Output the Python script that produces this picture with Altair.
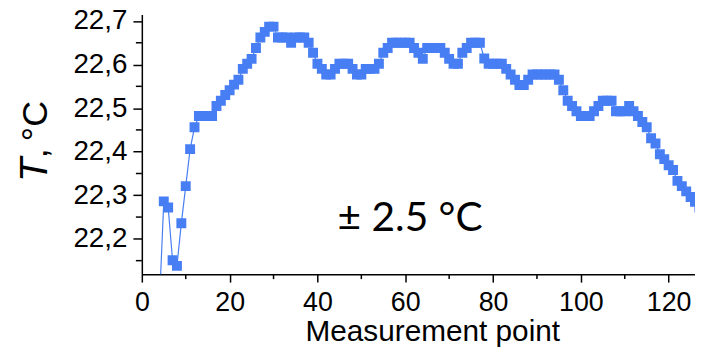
import altair as alt
import pandas as pd

# measurement index and temperature readings
points = list(range(4, 128))
temps = [
    22.05, 22.286, 22.272, 22.151, 22.138, 22.236, 22.321, 22.406, 22.456,
    22.482, 22.482, 22.482, 22.482, 22.505, 22.517, 22.530, 22.541, 22.554,
    22.565, 22.590, 22.602, 22.613, 22.638, 22.662, 22.675, 22.687, 22.687,
    22.662, 22.662, 22.662, 22.650, 22.662, 22.662, 22.662, 22.650, 22.627,
    22.602, 22.590, 22.577, 22.577, 22.590, 22.602, 22.602, 22.602, 22.590,
    22.577, 22.577, 22.590, 22.590, 22.590, 22.602, 22.627, 22.638, 22.650,
    22.650, 22.650, 22.650, 22.650, 22.638, 22.627, 22.613, 22.638, 22.638,
    22.638, 22.638, 22.627, 22.613, 22.602, 22.602, 22.627, 22.638, 22.650,
    22.650, 22.650, 22.614, 22.602, 22.602, 22.602, 22.602, 22.590, 22.577,
    22.565, 22.553, 22.553, 22.565, 22.577, 22.577, 22.577, 22.577, 22.577,
    22.577, 22.565, 22.541, 22.517, 22.505, 22.493, 22.482, 22.482,
    22.482, 22.493, 22.505, 22.517, 22.517, 22.517, 22.493, 22.493, 22.493,
    22.505, 22.493, 22.482, 22.468, 22.456, 22.431, 22.419, 22.394, 22.383,
    22.369, 22.358, 22.333, 22.321, 22.309, 22.296, 22.285, 22.272,
]

x_major = [0, 20, 40, 60, 80, 100, 120]
x_minor = [10, 30, 50, 70, 90, 110]
y_major = [22.2, 22.3, 22.4, 22.5, 22.6, 22.7]
y_minor = [22.15, 22.25, 22.35, 22.45, 22.55, 22.65]

annot_text = ["± 2.5 °C"]
annot_x = [61.1]
annot_y = [22.219]

X_DOMAIN = [0, 126]
Y_DOMAIN = [22.119, 22.715]
BLUE = "#477ef4"
FONT = "Liberation Sans"

df = pd.DataFrame({"point": points, "temp": temps})
xs = alt.Scale(domain=X_DOMAIN, nice=False, zero=False)
ys = alt.Scale(domain=Y_DOMAIN, nice=False, zero=False)

x_axis = alt.Axis(
    values=x_major, title="Measurement point", grid=False,
    labelFont=FONT, labelFontSize=27, labelColor="black",
    tickSize=8, tickWidth=1.5, tickColor="black",
    domainColor="black", domainWidth=1.5, labelPadding=8,
    titleFont=FONT, titleFontSize=30, titleFontWeight="normal", titleColor="black",
    titleX=293, titleY=67, titleBaseline="alphabetic", titleAlign="center",
    labelFlush=False,
)
y_axis = alt.Axis(
    values=y_major, title="", grid=False,
    labelExpr="replace(format(datum.value, '.1f'), '.', ',')",
    labelFont=FONT, labelFontSize=28, labelColor="black",
    tickSize=9, tickWidth=1.5, tickColor="black",
    domainColor="black", domainWidth=1.5, labelPadding=6, labelFlush=False,
)


def X(field):
    return alt.X(field, scale=xs, axis=x_axis)


def Y(field):
    return alt.Y(field, scale=ys, axis=y_axis)


base = alt.Chart(df)
line = base.mark_line(color=BLUE, strokeWidth=1.2, clip=True).encode(
    x=X("point:Q"), y=Y("temp:Q"),
)
pts = base.mark_point(shape="square", filled=True, size=100, opacity=1,
                      color=BLUE, clip=True).encode(
    x=X("point:Q"), y=Y("temp:Q"),
)

ymin_df = pd.DataFrame({"v": y_minor})
xmin_df = pd.DataFrame({"v": x_minor})
ytick = alt.Chart(ymin_df).mark_rule(color="black", strokeWidth=1.5).encode(
    y=Y("v:Q"), x=alt.value(-6), x2=alt.value(0),
)
xtick = alt.Chart(xmin_df).mark_rule(color="black", strokeWidth=1.5).encode(
    x=X("v:Q"), y=alt.value(262), y2=alt.value(267),
)

annot_df = pd.DataFrame({"t": annot_text, "ax": annot_x, "ay": annot_y})
annot = alt.Chart(annot_df).mark_text(
    font="Lato", fontSize=41, color="black", align="center", baseline="alphabetic"
).encode(
    x=X("ax:Q"), y=Y("ay:Q"), text="t:N",
)

title_df = pd.DataFrame({"a": ["T"], "b": [",\u2009°C"]})
t_ital = alt.Chart(title_df).mark_text(
    font=FONT, fontSize=40, fontStyle="italic", color="black", angle=270,
    align="left", baseline="alphabetic",
).encode(x=alt.value(-96), y=alt.value(169), text="a:N")
t_rest = alt.Chart(title_df).mark_text(
    font=FONT, fontSize=36, color="black", angle=270,
    align="left", baseline="alphabetic",
).encode(x=alt.value(-96), y=alt.value(145), text="b:N")

chart = alt.layer(line, pts, ytick, xtick, annot, t_ital, t_rest).properties(
    width=558, height=262,
    autosize=alt.AutoSizeParams(type="none"),
    padding={"left": 135, "top": 5, "right": 0, "bottom": 74},
).configure_view(stroke=None)

chart.save("out.html", embed_options={"renderer": "svg", "actions": False})
